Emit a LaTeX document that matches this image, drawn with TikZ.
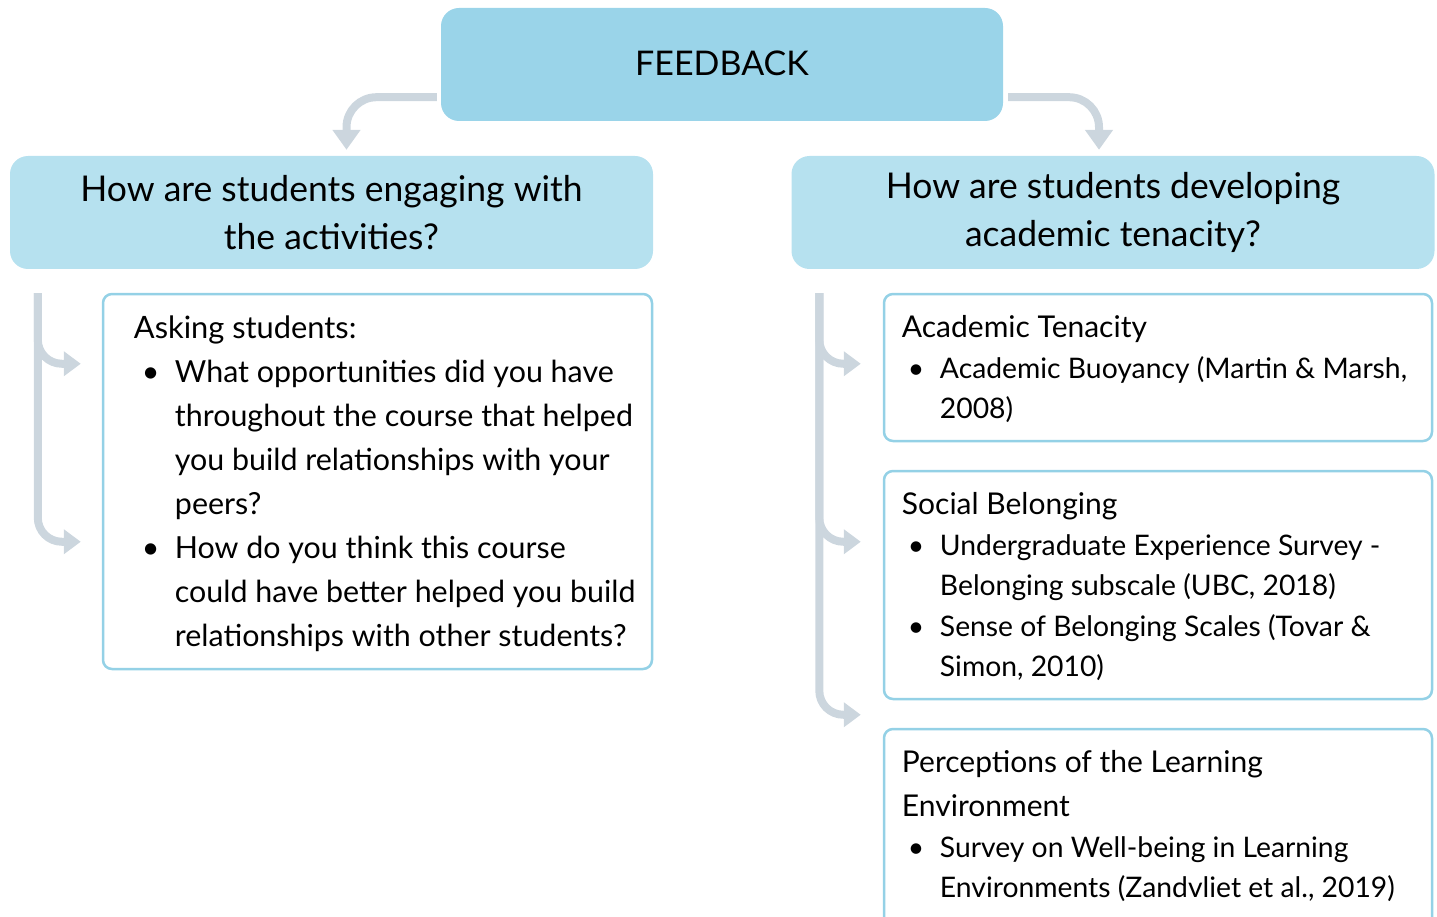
\documentclass[tikz,border=0pt]{standalone}
\usepackage{fontspec}
\setmainfont{Lato}
\usepackage{tikz}
\usetikzlibrary{arrows.meta,calc,positioning}
\definecolor{FbBlue}{RGB}{154,212,233}
\definecolor{HeadBlue}{RGB}{182,225,239}
\definecolor{EdgeBlue}{RGB}{148,209,230}
\definecolor{ArrGrey}{RGB}{204,214,222}
\newlength{\bulind}
\newlength{\bulpre}
\newcommand{\bul}{\makebox[\bulind][l]{\hspace{\bulpre}\textbullet}}
\newcommand{\ind}{\hspace*{\bulind}}
\newcommand{\boxhead}{\fontsize{30}{40}\selectfont}

\begin{document}
\begin{tikzpicture}[x=1pt,y=-1pt,
  fbbox/.style={fill=FbBlue,rounded corners=18pt,minimum width=562pt,minimum height=113pt,
    font=\fontsize{34}{48}\selectfont},
  headbox/.style={fill=HeadBlue,rounded corners=18pt,minimum width=643pt,minimum height=113pt,
    align=center,font=\fontsize{35.5}{48}\selectfont},
  listbox/.style={draw=EdgeBlue,line width=2.5pt,fill=white,rounded corners=9pt,minimum width=549pt},
  lefttext/.style={anchor=base west,align=left,inner sep=0pt,
    font=\fontsize{30.4}{44}\selectfont\setlength{\bulind}{41pt}\setlength{\bulpre}{8pt}},
  righttext/.style={anchor=base west,align=left,inner sep=0pt,
    font=\fontsize{28.3}{40}\selectfont\setlength{\bulind}{38pt}\setlength{\bulpre}{6pt}},
  bigarr/.style={draw=ArrGrey,line width=8pt,rounded corners=30pt,-{Triangle[width=27pt,length=20pt]}},
  sidearr/.style={draw=ArrGrey,line width=8pt,rounded corners=24pt,-{Triangle[width=24pt,length=17pt]}}]
\clip (0,0) rectangle (1437,917);
%
\node[fbbox] (fb) at (722,64.5) {\raisebox{2pt}{FEEDBACK}};
\node[headbox] (lh) at (331.5,212.5) {How are students engaging with\\the activities?};
\node[headbox] (rh) at (1113,212.5) {How are students developing\\academic tenacity?};
%
\node[listbox,minimum height=375pt] (lb) at (377.5,481.5) {};
\node[listbox,minimum height=147pt,minimum width=548pt] (rb1) at (1158,367.5) {};
\node[listbox,minimum height=228pt,minimum width=548pt] (rb2) at (1158,585) {};
\node[listbox,minimum height=210pt,minimum width=548pt] (rb3) at (1158,834) {};
%
% text nodes sit on the baseline of their last line
\node[lefttext] (lt) at ($(lb.north west)+(32,354)$) {{\fontsize{30.8}{44}\selectfont Asking students:}\\
\bul What opportunities did you have\\
\ind throughout the course that helped\\
\ind you build relationships with your\\
\ind peers?\\
\bul How do you think this course\\
\ind could have better helped you build\\
\ind relationships with other students?};
\node[righttext] (rt1) at ($(rb1.north west)+(19,126)$) {{\boxhead Academic Tenacity}\\[1pt]
\bul Academic Buoyancy (Martin \& Marsh,\\
\ind 2008)};
\node[righttext] (rt2) at ($(rb2.north west)+(19,207)$) {{\boxhead Social Belonging}\\[1pt]
\bul Undergraduate Experience Survey -\\
\ind Belonging subscale (UBC, 2018)\\[1pt]
\bul Sense of Belonging Scales (Tovar \&\\
\ind Simon, 2010)};
\node[righttext] (rt3) at ($(rb3.north west)+(19,170)$) {{\boxhead Perceptions of the Learning}\\[4pt]
{\boxhead Environment}\\[1pt]
\bul Survey on Well-being in Learning\\
\ind Environments (Zandvliet et al., 2019)};
%
% connectors
\coordinate (fbl) at ($(fb.south west)+(-4,-24)$);
\coordinate (fbr) at ($(fb.south east)+(5,-24)$);
\coordinate (lhtip) at ($(lh.north)+(15,-6)$);
\coordinate (rhtip) at ($(rh.north)+(-14,-6)$);
\draw[bigarr] (fbl) -| (lhtip);
\draw[bigarr] (fbr) -| (rhtip);
%
\coordinate (ltop) at ($(lh.south west)+(28,24)$);
\coordinate (ltip1) at ($(lb.north west)+(-21,71)$);
\coordinate (ltip2) at ($(lb.north west)+(-21,249)$);
\draw[sidearr] (ltop) |- (ltip1);
\draw[sidearr] (ltop) |- (ltip2);
%
\coordinate (rtop) at ($(rh.south west)+(28,24)$);
\coordinate (rtip1) at ($(rb1.north west)+(-22,71)$);
\coordinate (rtip2) at ($(rb2.north west)+(-22,72)$);
\coordinate (rtip3) at ($(rb3.north west)+(-22,-13)$);
\draw[sidearr] (rtop) |- (rtip1);
\draw[sidearr] (rtop) |- (rtip2);
\draw[sidearr] (rtop) |- (rtip3);
\end{tikzpicture}
\end{document}
